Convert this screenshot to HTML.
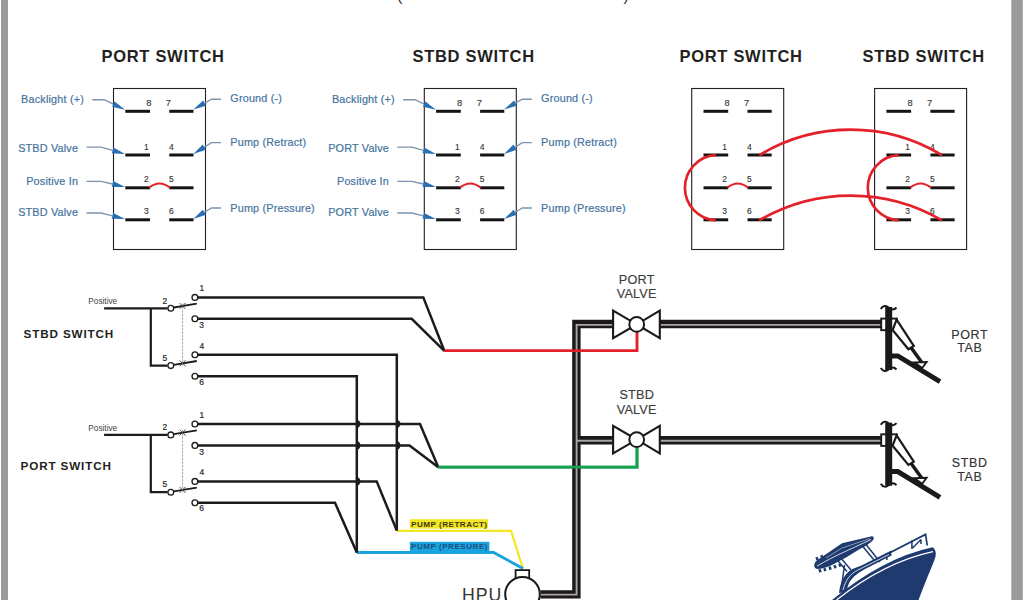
<!DOCTYPE html><html><head><meta charset="utf-8"><style>
html,body{margin:0;padding:0;background:#fff;}
body{width:1024px;height:600px;overflow:hidden;}
svg{display:block;}
text{font-family:"Liberation Sans",sans-serif;}
.h{font-weight:bold;font-size:16.5px;fill:#231f20;letter-spacing:0.7px;}
.h2{font-weight:bold;font-size:11.7px;fill:#231f20;letter-spacing:0.85px;}
.lb{font-size:10.8px;fill:#44739e;stroke:#44739e;stroke-width:0.2px;letter-spacing:0.2px;}
.n{font-size:8.5px;fill:#333;stroke:#333;stroke-width:0.12px;}
.n1{font-size:9.3px;}
.n2{font-size:8.4px;fill:#2a2a2a;stroke:#2a2a2a;stroke-width:0.2px;}
.pos{font-size:8.25px;fill:#444;}
.pl{font-size:8.1px;font-weight:bold;letter-spacing:0.5px;}
.vt{font-size:12.7px;fill:#3c3c3c;stroke:#3c3c3c;stroke-width:0.15px;letter-spacing:0.2px;}
.vt2{font-size:12.5px;fill:#333;stroke:#333;stroke-width:0.15px;letter-spacing:0.6px;}
.hpu{font-size:17.7px;fill:#333;letter-spacing:1px;}
.par{font-size:16px;fill:#333;}
</style></head><body><svg width="1024" height="600" viewBox="0 0 1024 600">
<rect x="0" y="0" width="1024" height="600" fill="#ffffff"/>
<rect x="1" y="0" width="7" height="600" fill="#9b9b9b"/>
<rect x="1011.3" y="0" width="11.5" height="600" fill="#9b9b9b"/>
<text x="397" y="1" class="par">(</text>
<text x="623.5" y="1" class="par">)</text>
<text x="101.5" y="62" class="h">PORT SWITCH</text>
<text x="412.5" y="62" class="h">STBD SWITCH</text>
<text x="679.5" y="62" class="h">PORT SWITCH</text>
<text x="862.5" y="62" class="h">STBD SWITCH</text>
<rect x="113.5" y="88.5" width="92" height="161" fill="none" stroke="#231f20" stroke-width="1.1"/>
<line x1="125.3" y1="111.3" x2="150.0" y2="111.3" stroke="#141414" stroke-width="3"/>
<line x1="169.3" y1="111.3" x2="193.5" y2="111.3" stroke="#141414" stroke-width="3"/>
<line x1="125.3" y1="155.0" x2="150.0" y2="155.0" stroke="#141414" stroke-width="3"/>
<line x1="169.3" y1="155.0" x2="193.5" y2="155.0" stroke="#141414" stroke-width="3"/>
<line x1="125.3" y1="187.8" x2="150.0" y2="187.8" stroke="#141414" stroke-width="3"/>
<line x1="169.3" y1="187.8" x2="193.5" y2="187.8" stroke="#141414" stroke-width="3"/>
<line x1="125.3" y1="219.8" x2="150.0" y2="219.8" stroke="#141414" stroke-width="3"/>
<line x1="169.3" y1="219.8" x2="193.5" y2="219.8" stroke="#141414" stroke-width="3"/>
<text x="151.45" y="105.8" class="n n1" text-anchor="end">8</text>
<text x="165.85" y="105.8" class="n n1">7</text>
<text x="148.85" y="149.6" class="n" text-anchor="end">1</text>
<text x="168.90" y="149.6" class="n">4</text>
<text x="148.85" y="182.4" class="n" text-anchor="end">2</text>
<text x="168.90" y="182.4" class="n">5</text>
<text x="148.85" y="214.4" class="n" text-anchor="end">3</text>
<text x="168.90" y="214.4" class="n">6</text>
<path d="M149.0,187.8 Q159.5,179.3 170.0,187.8" fill="none" stroke="#e3212b" stroke-width="2"/>
<polyline points="92.25,99.75 104.20,99.75 113.38,104.17" fill="none" stroke="#7d93ad" stroke-width="1.3"/>
<polygon points="125.10,109.80 112.08,106.87 114.68,101.46" fill="#2a6fb3"/>
<text x="84.0" y="102.7" class="lb" text-anchor="end">Backlight (+)</text>
<polyline points="86.50,147.20 101.10,147.20 112.59,150.46" fill="none" stroke="#7d93ad" stroke-width="1.3"/>
<polygon points="125.10,154.00 111.77,153.34 113.41,147.57" fill="#2a6fb3"/>
<text x="78.2" y="151.5" class="lb" text-anchor="end">STBD Valve</text>
<polyline points="86.50,181.30 101.10,181.30 112.45,184.00" fill="none" stroke="#7d93ad" stroke-width="1.3"/>
<polygon points="125.10,187.00 111.76,186.91 113.15,181.08" fill="#2a6fb3"/>
<text x="78.2" y="185.2" class="lb" text-anchor="end">Positive In</text>
<polyline points="86.50,213.00 101.10,213.00 112.49,215.85" fill="none" stroke="#7d93ad" stroke-width="1.3"/>
<polygon points="125.10,219.00 111.76,218.76 113.22,212.94" fill="#2a6fb3"/>
<text x="78.2" y="216.4" class="lb" text-anchor="end">STBD Valve</text>
<polyline points="221.00,99.25 211.50,99.25 204.63,103.12" fill="none" stroke="#7d93ad" stroke-width="1.3"/>
<polygon points="193.30,109.50 203.16,100.51 206.10,105.73" fill="#2a6fb3"/>
<text x="230.3" y="101.6" class="lb">Ground (-)</text>
<polyline points="221.00,142.60 211.50,142.60 204.32,147.10" fill="none" stroke="#7d93ad" stroke-width="1.3"/>
<polygon points="193.30,154.00 202.72,144.56 205.91,149.64" fill="#2a6fb3"/>
<text x="230.3" y="145.6" class="lb">Pump (Retract)</text>
<polyline points="221.00,208.00 211.50,208.00 204.43,212.28" fill="none" stroke="#7d93ad" stroke-width="1.3"/>
<polygon points="193.30,219.00 202.87,209.71 205.98,214.84" fill="#2a6fb3"/>
<text x="230.3" y="211.6" class="lb">Pump (Pressure)</text>
<rect x="424.3" y="88.5" width="92" height="161" fill="none" stroke="#231f20" stroke-width="1.1"/>
<line x1="436.1" y1="111.3" x2="460.8" y2="111.3" stroke="#141414" stroke-width="3"/>
<line x1="480.1" y1="111.3" x2="504.3" y2="111.3" stroke="#141414" stroke-width="3"/>
<line x1="436.1" y1="155.0" x2="460.8" y2="155.0" stroke="#141414" stroke-width="3"/>
<line x1="480.1" y1="155.0" x2="504.3" y2="155.0" stroke="#141414" stroke-width="3"/>
<line x1="436.1" y1="187.8" x2="460.8" y2="187.8" stroke="#141414" stroke-width="3"/>
<line x1="480.1" y1="187.8" x2="504.3" y2="187.8" stroke="#141414" stroke-width="3"/>
<line x1="436.1" y1="219.8" x2="460.8" y2="219.8" stroke="#141414" stroke-width="3"/>
<line x1="480.1" y1="219.8" x2="504.3" y2="219.8" stroke="#141414" stroke-width="3"/>
<text x="462.25" y="105.8" class="n n1" text-anchor="end">8</text>
<text x="476.65" y="105.8" class="n n1">7</text>
<text x="459.65" y="149.6" class="n" text-anchor="end">1</text>
<text x="479.70" y="149.6" class="n">4</text>
<text x="459.65" y="182.4" class="n" text-anchor="end">2</text>
<text x="479.70" y="182.4" class="n">5</text>
<text x="459.65" y="214.4" class="n" text-anchor="end">3</text>
<text x="479.70" y="214.4" class="n">6</text>
<path d="M459.8,187.8 Q470.3,179.3 480.8,187.8" fill="none" stroke="#e3212b" stroke-width="2"/>
<polyline points="403.05,99.75 415.00,99.75 424.18,104.17" fill="none" stroke="#7d93ad" stroke-width="1.3"/>
<polygon points="435.90,109.80 422.88,106.87 425.48,101.46" fill="#2a6fb3"/>
<text x="394.8" y="102.7" class="lb" text-anchor="end">Backlight (+)</text>
<polyline points="397.30,147.20 411.90,147.20 423.39,150.46" fill="none" stroke="#7d93ad" stroke-width="1.3"/>
<polygon points="435.90,154.00 422.57,153.34 424.21,147.57" fill="#2a6fb3"/>
<text x="389.0" y="151.5" class="lb" text-anchor="end">PORT Valve</text>
<polyline points="397.30,181.30 411.90,181.30 423.25,184.00" fill="none" stroke="#7d93ad" stroke-width="1.3"/>
<polygon points="435.90,187.00 422.56,186.91 423.95,181.08" fill="#2a6fb3"/>
<text x="389.0" y="185.2" class="lb" text-anchor="end">Positive In</text>
<polyline points="397.30,213.00 411.90,213.00 423.29,215.85" fill="none" stroke="#7d93ad" stroke-width="1.3"/>
<polygon points="435.90,219.00 422.56,218.76 424.02,212.94" fill="#2a6fb3"/>
<text x="389.0" y="216.4" class="lb" text-anchor="end">PORT Valve</text>
<polyline points="531.80,99.25 522.30,99.25 515.43,103.12" fill="none" stroke="#7d93ad" stroke-width="1.3"/>
<polygon points="504.10,109.50 513.96,100.51 516.90,105.73" fill="#2a6fb3"/>
<text x="541.1" y="101.6" class="lb">Ground (-)</text>
<polyline points="531.80,142.60 522.30,142.60 515.12,147.10" fill="none" stroke="#7d93ad" stroke-width="1.3"/>
<polygon points="504.10,154.00 513.52,144.56 516.71,149.64" fill="#2a6fb3"/>
<text x="541.1" y="145.6" class="lb">Pump (Retract)</text>
<polyline points="531.80,208.00 522.30,208.00 515.23,212.28" fill="none" stroke="#7d93ad" stroke-width="1.3"/>
<polygon points="504.10,219.00 513.67,209.71 516.78,214.84" fill="#2a6fb3"/>
<text x="541.1" y="211.6" class="lb">Pump (Pressure)</text>
<rect x="691.7" y="88.5" width="92" height="161" fill="none" stroke="#231f20" stroke-width="1.1"/>
<line x1="703.5" y1="111.3" x2="728.2" y2="111.3" stroke="#141414" stroke-width="3"/>
<line x1="747.5" y1="111.3" x2="771.7" y2="111.3" stroke="#141414" stroke-width="3"/>
<line x1="703.5" y1="155.0" x2="728.2" y2="155.0" stroke="#141414" stroke-width="3"/>
<line x1="747.5" y1="155.0" x2="771.7" y2="155.0" stroke="#141414" stroke-width="3"/>
<line x1="703.5" y1="187.8" x2="728.2" y2="187.8" stroke="#141414" stroke-width="3"/>
<line x1="747.5" y1="187.8" x2="771.7" y2="187.8" stroke="#141414" stroke-width="3"/>
<line x1="703.5" y1="219.8" x2="728.2" y2="219.8" stroke="#141414" stroke-width="3"/>
<line x1="747.5" y1="219.8" x2="771.7" y2="219.8" stroke="#141414" stroke-width="3"/>
<text x="729.65" y="105.8" class="n n1" text-anchor="end">8</text>
<text x="744.05" y="105.8" class="n n1">7</text>
<text x="727.05" y="149.6" class="n" text-anchor="end">1</text>
<text x="747.10" y="149.6" class="n">4</text>
<text x="727.05" y="182.4" class="n" text-anchor="end">2</text>
<text x="747.10" y="182.4" class="n">5</text>
<text x="727.05" y="214.4" class="n" text-anchor="end">3</text>
<text x="747.10" y="214.4" class="n">6</text>
<path d="M727.2,187.8 Q737.7,179.3 748.2,187.8" fill="none" stroke="#e3212b" stroke-width="2"/>
<rect x="874.6" y="88.5" width="92" height="161" fill="none" stroke="#231f20" stroke-width="1.1"/>
<line x1="886.4" y1="111.3" x2="911.1" y2="111.3" stroke="#141414" stroke-width="3"/>
<line x1="930.4" y1="111.3" x2="954.6" y2="111.3" stroke="#141414" stroke-width="3"/>
<line x1="886.4" y1="155.0" x2="911.1" y2="155.0" stroke="#141414" stroke-width="3"/>
<line x1="930.4" y1="155.0" x2="954.6" y2="155.0" stroke="#141414" stroke-width="3"/>
<line x1="886.4" y1="187.8" x2="911.1" y2="187.8" stroke="#141414" stroke-width="3"/>
<line x1="930.4" y1="187.8" x2="954.6" y2="187.8" stroke="#141414" stroke-width="3"/>
<line x1="886.4" y1="219.8" x2="911.1" y2="219.8" stroke="#141414" stroke-width="3"/>
<line x1="930.4" y1="219.8" x2="954.6" y2="219.8" stroke="#141414" stroke-width="3"/>
<text x="912.55" y="105.8" class="n n1" text-anchor="end">8</text>
<text x="926.95" y="105.8" class="n n1">7</text>
<text x="909.95" y="149.6" class="n" text-anchor="end">1</text>
<text x="930.00" y="149.6" class="n">4</text>
<text x="909.95" y="182.4" class="n" text-anchor="end">2</text>
<text x="930.00" y="182.4" class="n">5</text>
<text x="909.95" y="214.4" class="n" text-anchor="end">3</text>
<text x="930.00" y="214.4" class="n">6</text>
<path d="M910.1,187.8 Q920.6,179.3 931.1,187.8" fill="none" stroke="#e3212b" stroke-width="2"/>
<path d="M715.7,155.2 A32.6,32.6 0 0 0 715.7,220.3" fill="none" stroke="#e3212b" stroke-width="2.7"/>
<path d="M898.6,155.2 A32.6,32.6 0 0 0 898.6,220.3" fill="none" stroke="#e3212b" stroke-width="2.7"/>
<path d="M759.3,155.2 A176,176 0 0 1 942,155.2" fill="none" stroke="#e3212b" stroke-width="2.7"/>
<path d="M759.3,220.3 A181,181 0 0 1 942,220.3" fill="none" stroke="#e3212b" stroke-width="2.7"/>
<text x="23.6" y="338" class="h2">STBD SWITCH</text>
<text x="88.3" y="304.1" class="pos">Positive</text>
<polyline points="104.1,308.3 167.6,308.3" fill="none" stroke="#1c1c1c" stroke-width="2.2"/>
<polyline points="150.8,308.3 150.8,365.6 167.6,365.6" fill="none" stroke="#1c1c1c" stroke-width="2.2"/>
<line x1="173.8" y1="307.5" x2="196.8" y2="303.7" stroke="#1c1c1c" stroke-width="1.8"/>
<path d="M179.6,303.1 L185.6,309.1 M185.6,302.9 L179.6,308.9" stroke="#333" stroke-width="0.85"/>
<line x1="173.8" y1="364.8" x2="196.8" y2="361.0" stroke="#1c1c1c" stroke-width="1.8"/>
<path d="M179.6,360.4 L185.6,366.4 M185.6,360.2 L179.6,366.2" stroke="#333" stroke-width="0.85"/>
<line x1="182.6" y1="303.3" x2="182.6" y2="366.6" stroke="#8a8a8a" stroke-width="0.75" stroke-dasharray="2.5,1"/>
<circle cx="170.8" cy="308.3" r="2.9" fill="#fff" stroke="#1c1c1c" stroke-width="1.3"/>
<circle cx="170.8" cy="365.6" r="2.9" fill="#fff" stroke="#1c1c1c" stroke-width="1.3"/>
<circle cx="194.9" cy="297.4" r="2.9" fill="#fff" stroke="#1c1c1c" stroke-width="1.3"/>
<circle cx="194.9" cy="318.8" r="2.9" fill="#fff" stroke="#1c1c1c" stroke-width="1.3"/>
<circle cx="194.9" cy="354.8" r="2.9" fill="#fff" stroke="#1c1c1c" stroke-width="1.3"/>
<circle cx="194.9" cy="376.2" r="2.9" fill="#fff" stroke="#1c1c1c" stroke-width="1.3"/>
<text x="167.2" y="303.5" class="n2" text-anchor="end">2</text>
<text x="167.2" y="360.8" class="n2" text-anchor="end">5</text>
<text x="199.6" y="291.2" class="n2">1</text>
<text x="199.3" y="328.2" class="n2">3</text>
<text x="199.6" y="348.6" class="n2">4</text>
<text x="199.3" y="384.8" class="n2">6</text>
<text x="20.6" y="469.7" class="h2">PORT SWITCH</text>
<text x="88.3" y="430.7" class="pos">Positive</text>
<polyline points="104.1,434.9 167.6,434.9" fill="none" stroke="#1c1c1c" stroke-width="2.2"/>
<polyline points="150.8,434.9 150.8,492.2 167.6,492.2" fill="none" stroke="#1c1c1c" stroke-width="2.2"/>
<line x1="173.8" y1="434.1" x2="196.8" y2="430.3" stroke="#1c1c1c" stroke-width="1.8"/>
<path d="M179.6,429.7 L185.6,435.7 M185.6,429.5 L179.6,435.5" stroke="#333" stroke-width="0.85"/>
<line x1="173.8" y1="491.4" x2="196.8" y2="487.6" stroke="#1c1c1c" stroke-width="1.8"/>
<path d="M179.6,487.0 L185.6,493.0 M185.6,486.8 L179.6,492.8" stroke="#333" stroke-width="0.85"/>
<line x1="182.6" y1="429.9" x2="182.6" y2="493.2" stroke="#8a8a8a" stroke-width="0.75" stroke-dasharray="2.5,1"/>
<circle cx="170.8" cy="434.9" r="2.9" fill="#fff" stroke="#1c1c1c" stroke-width="1.3"/>
<circle cx="170.8" cy="492.2" r="2.9" fill="#fff" stroke="#1c1c1c" stroke-width="1.3"/>
<circle cx="194.9" cy="424.0" r="2.9" fill="#fff" stroke="#1c1c1c" stroke-width="1.3"/>
<circle cx="194.9" cy="445.4" r="2.9" fill="#fff" stroke="#1c1c1c" stroke-width="1.3"/>
<circle cx="194.9" cy="481.4" r="2.9" fill="#fff" stroke="#1c1c1c" stroke-width="1.3"/>
<circle cx="194.9" cy="502.8" r="2.9" fill="#fff" stroke="#1c1c1c" stroke-width="1.3"/>
<text x="167.2" y="430.1" class="n2" text-anchor="end">2</text>
<text x="167.2" y="487.4" class="n2" text-anchor="end">5</text>
<text x="199.6" y="417.8" class="n2">1</text>
<text x="199.3" y="454.8" class="n2">3</text>
<text x="199.6" y="475.2" class="n2">4</text>
<text x="199.3" y="511.4" class="n2">6</text>
<polyline points="444.3,350.8 637.0,350.8 637.0,332.0" fill="none" stroke="#e3212b" stroke-width="2.5" stroke-linejoin="miter"/>
<polyline points="438.3,467.2 637.0,467.2 637.0,447.5" fill="none" stroke="#17a04f" stroke-width="2.8" stroke-linejoin="miter"/>
<polyline points="396.8,530.8 511.0,530.8 523.0,568.5" fill="none" stroke="#f3e623" stroke-width="2.2" stroke-linejoin="miter"/>
<polyline points="356.8,552.5 493.6,552.5 523.0,568.5" fill="none" stroke="#1ba3e0" stroke-width="2.8" stroke-linejoin="miter"/>
<polyline points="197.8,297.4 423.3,297.4 444.3,350.8" fill="none" stroke="#1c1c1c" stroke-width="2.5" stroke-linejoin="miter"/>
<polyline points="197.8,318.8 411.7,318.8 444.3,350.8" fill="none" stroke="#1c1c1c" stroke-width="2.5" stroke-linejoin="miter"/>
<polyline points="197.8,354.8 396.8,354.8 396.8,530.6" fill="none" stroke="#1c1c1c" stroke-width="2.5" stroke-linejoin="miter"/>
<polyline points="197.8,376.2 356.8,376.2 356.8,552.5" fill="none" stroke="#1c1c1c" stroke-width="2.5" stroke-linejoin="miter"/>
<polyline points="197.8,424.0 420.0,424.0 438.3,467.2" fill="none" stroke="#1c1c1c" stroke-width="2.5" stroke-linejoin="miter"/>
<polyline points="197.8,445.4 409.5,445.4 438.3,467.2" fill="none" stroke="#1c1c1c" stroke-width="2.5" stroke-linejoin="miter"/>
<polyline points="197.8,481.4 376.7,481.4 396.8,530.6" fill="none" stroke="#1c1c1c" stroke-width="2.5" stroke-linejoin="miter"/>
<polyline points="197.8,502.8 335.0,502.8 356.8,552.5" fill="none" stroke="#1c1c1c" stroke-width="2.5" stroke-linejoin="miter"/>
<path d="M356.8,419.8 Q362.8,424.0 356.8,428.2 Z" fill="#1c1c1c" stroke="#1c1c1c" stroke-width="1.6"/>
<path d="M356.8,441.2 Q362.8,445.4 356.8,449.59999999999997 Z" fill="#1c1c1c" stroke="#1c1c1c" stroke-width="1.6"/>
<path d="M396.8,419.8 Q402.8,424.0 396.8,428.2 Z" fill="#1c1c1c" stroke="#1c1c1c" stroke-width="1.6"/>
<path d="M396.8,441.2 Q402.8,445.4 396.8,449.59999999999997 Z" fill="#1c1c1c" stroke="#1c1c1c" stroke-width="1.6"/>
<path d="M356.8,477.2 Q362.8,481.4 356.8,485.59999999999997 Z" fill="#1c1c1c" stroke="#1c1c1c" stroke-width="1.6"/>
<rect x="409.8" y="519.2" width="78.2" height="9.4" fill="#f3e623"/>
<text x="411" y="526.6" class="pl" fill="#3b3a12">PUMP (RETRACT)</text>
<rect x="409.8" y="541.8" width="79.6" height="9.4" fill="#1ba3e0"/>
<text x="411" y="549.2" class="pl" fill="#1d4f7e" letter-spacing="0.7">PUMP (PRESURE)</text>
<path d="M540.5,594.4 L576.4,594.4 L576.4,324.0 L613,324.0" fill="none" stroke="#1b1919" stroke-width="8.4" stroke-linejoin="miter"/>
<path d="M659.8,324.0 L881,324.0" fill="none" stroke="#1b1919" stroke-width="8.4" stroke-linejoin="miter"/>
<path d="M576.4,440.2 L613,440.2" fill="none" stroke="#1b1919" stroke-width="8.4" stroke-linejoin="miter"/>
<path d="M659.8,440.2 L881,440.2" fill="none" stroke="#1b1919" stroke-width="8.4" stroke-linejoin="miter"/>
<path d="M540.5,594.6 L576.6,594.6 L576.6,324.9 L613,324.9" fill="none" stroke="#aaa5a5" stroke-width="1.9" stroke-linejoin="miter"/>
<path d="M659.8,324.9 L881,324.9" fill="none" stroke="#aaa5a5" stroke-width="1.9" stroke-linejoin="miter"/>
<path d="M576.6,440.8 L613,440.8" fill="none" stroke="#aaa5a5" stroke-width="1.9" stroke-linejoin="miter"/>
<path d="M659.8,440.8 L881,440.8" fill="none" stroke="#aaa5a5" stroke-width="1.9" stroke-linejoin="miter"/>
<polyline points="438.3,467.2 637.0,467.2 637.0,447.5" fill="none" stroke="#17a04f" stroke-width="2.8" stroke-linejoin="miter"/>
<polyline points="444.3,350.8 637.0,350.8 637.0,332.0" fill="none" stroke="#e3212b" stroke-width="2.5" stroke-linejoin="miter"/>
<polygon points="613.1,310.6 613.1,338.2 636.7,324.4" fill="#fff" stroke="#1b1919" stroke-width="2.1" stroke-linejoin="miter"/>
<polygon points="659.8,310.6 659.8,338.2 636.7,324.4" fill="#fff" stroke="#1b1919" stroke-width="2.1" stroke-linejoin="miter"/>
<circle cx="636.7" cy="324.4" r="7.4" fill="#fff" stroke="#1b1919" stroke-width="2"/>
<polygon points="613.1,425.8 613.1,453.4 636.7,439.6" fill="#fff" stroke="#1b1919" stroke-width="2.1" stroke-linejoin="miter"/>
<polygon points="659.8,425.8 659.8,453.4 636.7,439.6" fill="#fff" stroke="#1b1919" stroke-width="2.1" stroke-linejoin="miter"/>
<circle cx="636.7" cy="439.6" r="7.4" fill="#fff" stroke="#1b1919" stroke-width="2"/>
<text x="636.7" y="284.2" class="vt" text-anchor="middle">PORT</text>
<text x="636.7" y="298.4" class="vt" text-anchor="middle">VALVE</text>
<text x="636.7" y="399.3" class="vt" text-anchor="middle">STBD</text>
<text x="636.7" y="414.3" class="vt" text-anchor="middle">VALVE</text>
<g transform="translate(0,0)">
<rect x="881.2" y="318.6" width="15.6" height="11.6" fill="#fff" stroke="#1b1919" stroke-width="1.9"/>
<polygon points="896.6,319.6 913.8,346 908.4,349.2 892.6,330" fill="#fff" stroke="#1b1919" stroke-width="2.2" stroke-linejoin="miter"/>
<line x1="911" y1="347.5" x2="921.5" y2="362" stroke="#1b1919" stroke-width="3.5"/>
<polyline points="891,355.9 897.8,355.9 940,381.6" fill="none" stroke="#1b1919" stroke-width="5" stroke-linejoin="miter"/>
<polygon points="914.2,362.4 926.6,362 922.2,368" fill="#fff" stroke="#1b1919" stroke-width="1.9" stroke-linejoin="miter"/>
<rect x="885.2" y="307" width="7" height="63" fill="#1b1919"/>
<path d="M880.8,309 C883,305.5 886,305.2 888.5,307.5 C891,310 894,310.5 896.5,307.5" fill="none" stroke="#1b1919" stroke-width="2"/>
<path d="M880.8,368 C883,371.5 886,371.8 888.5,369.5 C891,367 894,366.5 896.5,369.5" fill="none" stroke="#1b1919" stroke-width="2"/>
</g>
<g transform="translate(0,115.7)">
<rect x="881.2" y="318.6" width="15.6" height="11.6" fill="#fff" stroke="#1b1919" stroke-width="1.9"/>
<polygon points="896.6,319.6 913.8,346 908.4,349.2 892.6,330" fill="#fff" stroke="#1b1919" stroke-width="2.2" stroke-linejoin="miter"/>
<line x1="911" y1="347.5" x2="921.5" y2="362" stroke="#1b1919" stroke-width="3.5"/>
<polyline points="891,355.9 897.8,355.9 940,381.6" fill="none" stroke="#1b1919" stroke-width="5" stroke-linejoin="miter"/>
<polygon points="914.2,362.4 926.6,362 922.2,368" fill="#fff" stroke="#1b1919" stroke-width="1.9" stroke-linejoin="miter"/>
<rect x="885.2" y="307" width="7" height="63" fill="#1b1919"/>
<path d="M880.8,309 C883,305.5 886,305.2 888.5,307.5 C891,310 894,310.5 896.5,307.5" fill="none" stroke="#1b1919" stroke-width="2"/>
<path d="M880.8,368 C883,371.5 886,371.8 888.5,369.5 C891,367 894,366.5 896.5,369.5" fill="none" stroke="#1b1919" stroke-width="2"/>
</g>
<text x="969.7" y="338.6" class="vt2" text-anchor="middle">PORT</text>
<text x="969.9" y="352" class="vt2" text-anchor="middle">TAB</text>
<text x="969.7" y="467" class="vt2" text-anchor="middle">STBD</text>
<text x="969.9" y="480.5" class="vt2" text-anchor="middle">TAB</text>
<rect x="515.6" y="570.1" width="13.6" height="8" fill="#fff" stroke="#1b1919" stroke-width="1.8"/>
<circle cx="522.5" cy="594.3" r="17.3" fill="#fff" stroke="#1b1919" stroke-width="2"/>
<text x="462" y="600.8" class="hpu">HPU</text>
<g fill="#1e3a6f">
<path d="M832,600 Q883,558 932.5,547.3 C936.5,550 936.5,555 934.5,560 Q926,580 918.5,600 Z"/>
<path d="M814.2,565.2 C814.6,562.6 815.8,561.2 817.5,560 L842,543.3 L871.8,536.2 C873.8,536.2 874.4,538 873.2,540 C870,543.5 865,546.5 859,549.5 L846,557.5 L833,564.5 C828,567 823,568.8 818,569 C815.5,569 814.1,567.6 814.2,565.2 Z"/>
<path d="M839,593 C840,584 843.5,575 850,570.5 C854,568 859,566.5 866,564.5 L891,551.5 L891.5,555.5 L868,567.5 C860,571.5 853,576 849,583 L846,592 Z"/>
<rect x="818.3" y="569.6" width="2.5" height="3.2" transform="rotate(-18 818.3 569.6)"/>
<rect x="823.2" y="568.5" width="2.5" height="3.2" transform="rotate(-18 823.2 568.5)"/>
<rect x="828.4" y="567.1" width="2.5" height="3.2" transform="rotate(-18 828.4 567.1)"/>
<rect x="833.3" y="565.6" width="2.5" height="3.2" transform="rotate(-18 833.3 565.6)"/>
<rect x="838.2" y="564" width="2.5" height="3.2" transform="rotate(-18 838.2 564)"/>
<rect x="815.4" y="557.4" width="2.5" height="3.2" transform="rotate(-18 815.4 557.4)"/>
<rect x="820.2" y="555.6" width="2.5" height="3.2" transform="rotate(-18 820.2 555.6)"/>
</g>
<g stroke="#1e3a6f" fill="none">
<path d="M860,568 L925.6,534.4 L927.2,545.5" stroke-width="1.7"/>
<path d="M852.5,571 L891.7,551.3" stroke-width="1.8"/>
<path d="M886.9,553.5 L886.9,560 M911.9,540.6 L911.9,549 M912.5,548 L921,539.5 M921,539.5 L921,544" stroke-width="1.5"/>
<path d="M833,555 L847,571.5 M837.5,554 L851,570 M862,545.5 L876.5,563 M866,544.5 L880,562 M844.5,565 L841.5,587" stroke-width="1.5"/>
</g>
<path d="M817,566 C826,561 834,556.5 842,553 L871,539.5" stroke="#fff" stroke-width="0.8" fill="none"/>
<path d="M826,558 L842,548 L870,538.5" stroke="#fff" stroke-width="0.6" fill="none" opacity="0.8"/>
<path d="M836.5,600 Q884.5,562 933,551.6" stroke="#fff" stroke-width="1.3" fill="none"/>
<path d="M843,590 C845.5,580 850,574 858,570 L889,554.5" stroke="#fff" stroke-width="0.8" fill="none"/>
</svg></body></html>
